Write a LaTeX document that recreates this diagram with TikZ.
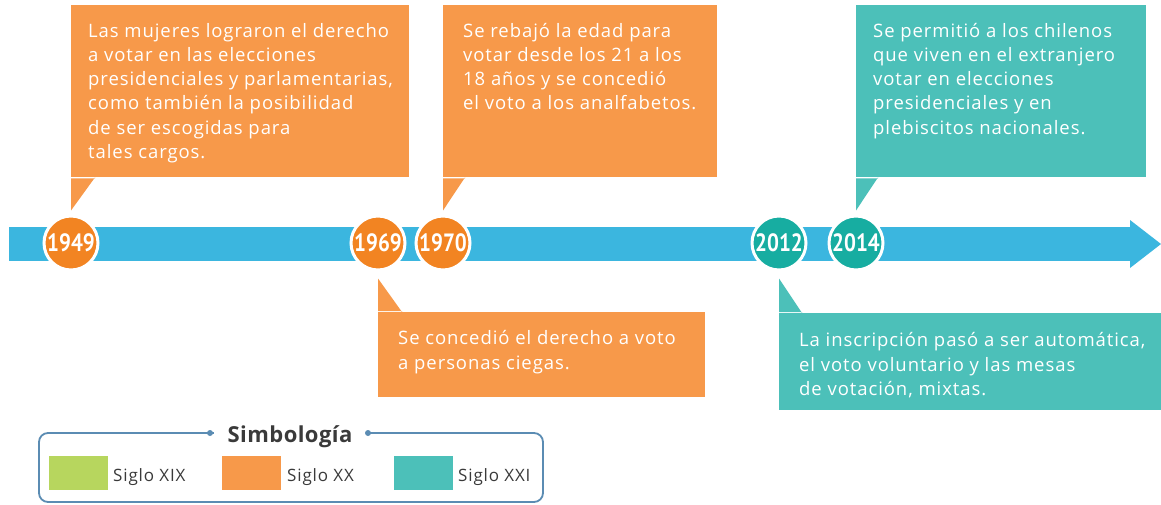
\documentclass[tikz,border=0pt]{standalone}
\usepackage{fontspec}
\setmainfont{Open Sans}[LetterSpace=5]
\newfontfamily\yearfont{PT Sans}
\newfontfamily\titlefont{Open Sans}[LetterSpace=2]
\usetikzlibrary{calc}
\definecolor{orbox}{HTML}{F7994A}
\definecolor{orcirc}{HTML}{F28422}
\definecolor{tlbox}{HTML}{4CC0B9}
\definecolor{tlcirc}{HTML}{17ADA1}
\definecolor{barblue}{HTML}{3BB6DF}
\definecolor{lggreen}{HTML}{B7D65E}
\definecolor{lgline}{HTML}{5B8CB3}
\definecolor{lgtext}{HTML}{3A3A3A}
\tikzset{
  boxtext/.style={anchor=north west, inner sep=0pt, align=left, text=white,
    font=\fontsize{18.5}{24.2}\selectfont},
  panel/.style={anchor=north west, inner sep=0pt, minimum width=#1},
  yearc/.style={circle, draw=white, line width=3pt, minimum size=54pt, inner sep=0pt,
    text=white, font=\yearfont\bfseries\fontsize{25}{25}\selectfont},
  swatch/.style={rectangle, minimum width=59pt, minimum height=34pt, inner sep=0pt},
  lglabel/.style={anchor=base west, inner sep=0pt, text=lgtext, font=\fontsize{17}{20}\selectfont},
}
\newcommand{\yr}[1]{\scalebox{0.84}[1]{#1}}
\begin{document}
\begin{tikzpicture}[x=1pt,y=-1pt]
\useasboundingbox (0,0) rectangle (1161,504);
\fill[white] (0,0) rectangle (1161,504);
% timeline bar with arrow
\fill[barblue] (9,227) rectangle (1131,261);
\fill[barblue] (1130,220) -- (1161,244) -- (1130,268) -- cycle;
% circles
\node[yearc, fill=orcirc] (c1949) at (71,243) {\yr{1949}};
\node[yearc, fill=orcirc] (c1969) at (378,243) {\yr{1969}};
\node[yearc, fill=orcirc] (c1970) at (443,243) {\yr{1970}};
\node[yearc, fill=tlcirc] (c2012) at (779,243) {\yr{2012}};
\node[yearc, fill=tlcirc] (c2014) at (856,243) {\yr{2014}};
% panels
\node[panel=338pt, minimum height=172pt, fill=orbox] (p1949) at (71,5) {};
\node[panel=274pt, minimum height=172pt, fill=orbox] (p1970) at (443,5) {};
\node[panel=290pt, minimum height=172pt, fill=tlbox] (p2014) at (856,5) {};
\node[panel=327pt, minimum height=85pt, fill=orbox] (p1969) at (378,312) {};
\node[panel=383pt, minimum height=97pt, fill=tlbox] (p2012) at (779,313) {};
% tails
\fill[orbox] ($(p1949.south west)+(0,1)$) -- ($(p1949.south west)+(24,1)$) -- ($(p1949.south west)+(24,0)$) -- ([yshift=4pt]c1949.north) -- cycle;
\fill[orbox] ($(p1970.south west)+(0,1)$) -- ($(p1970.south west)+(22,1)$) -- ($(p1970.south west)+(22,0)$) -- ([yshift=4pt]c1970.north) -- cycle;
\fill[tlbox] ($(p2014.south west)+(0,1)$) -- ($(p2014.south west)+(22,1)$) -- ($(p2014.south west)+(22,0)$) -- ([yshift=4pt]c2014.north) -- cycle;
\fill[orbox] ($(p1969.north west)+(0,-1)$) -- ($(p1969.north west)+(24,-1)$) -- ($(p1969.north west)+(24,0)$) -- ([yshift=-7pt]c1969.south) -- cycle;
\fill[tlbox] ($(p2012.north west)+(0,-1)$) -- ($(p2012.north west)+(23,-1)$) -- ($(p2012.north west)+(23,0)$) -- ([yshift=-7pt]c2012.south) -- cycle;
% texts
\node[boxtext] (t1949) at (88,23) {Las mujeres lograron el derecho\\a votar en las elecciones\\presidenciales y parlamentarias,\\como también la posibilidad\\de ser escogidas para\\tales cargos.};
\node[boxtext] (t1970) at (463,23) {Se rebajó la edad para\\votar desde los 21 a los\\18 años y se concedió\\el voto a los analfabetos.};
\node[boxtext] (t2014) at (873,23) {Se permitió a los chilenos\\que viven en el extranjero\\votar en elecciones\\presidenciales y en\\plebiscitos nacionales.};
\node[boxtext] (t1969) at (398,330.5) {Se concedió el derecho a voto\\a personas ciegas.};
\node[boxtext] (t2012) at (799,332.5) {La inscripción pasó a ser automática,\\el voto voluntario y las mesas\\de votación, mixtas.};
% legend
\draw[lgline, line width=1.8pt, rounded corners=9pt] (39,433) rectangle (543,502);
\node[anchor=base, fill=white, inner xsep=0pt, minimum width=152pt, text=lgtext,
  font=\titlefont\bfseries\fontsize{22}{22}\selectfont] (lgtitle) at (290,442) {Simbología};
\fill[lgline] (210,433) circle (3pt);
\fill[lgline] (368,433) circle (3pt);
\node[swatch, fill=lggreen] (s19) at (78.5,473) {};
\node[swatch, fill=orbox] (s20) at (251.5,473) {};
\node[swatch, fill=tlbox] (s21) at (423.5,473) {};
\node[lglabel] (l19) at (113,481) {Siglo XIX};
\node[lglabel] (l20) at (287,481) {Siglo XX};
\node[lglabel] (l21) at (458,481) {Siglo XXI};
\end{tikzpicture}
\end{document}
